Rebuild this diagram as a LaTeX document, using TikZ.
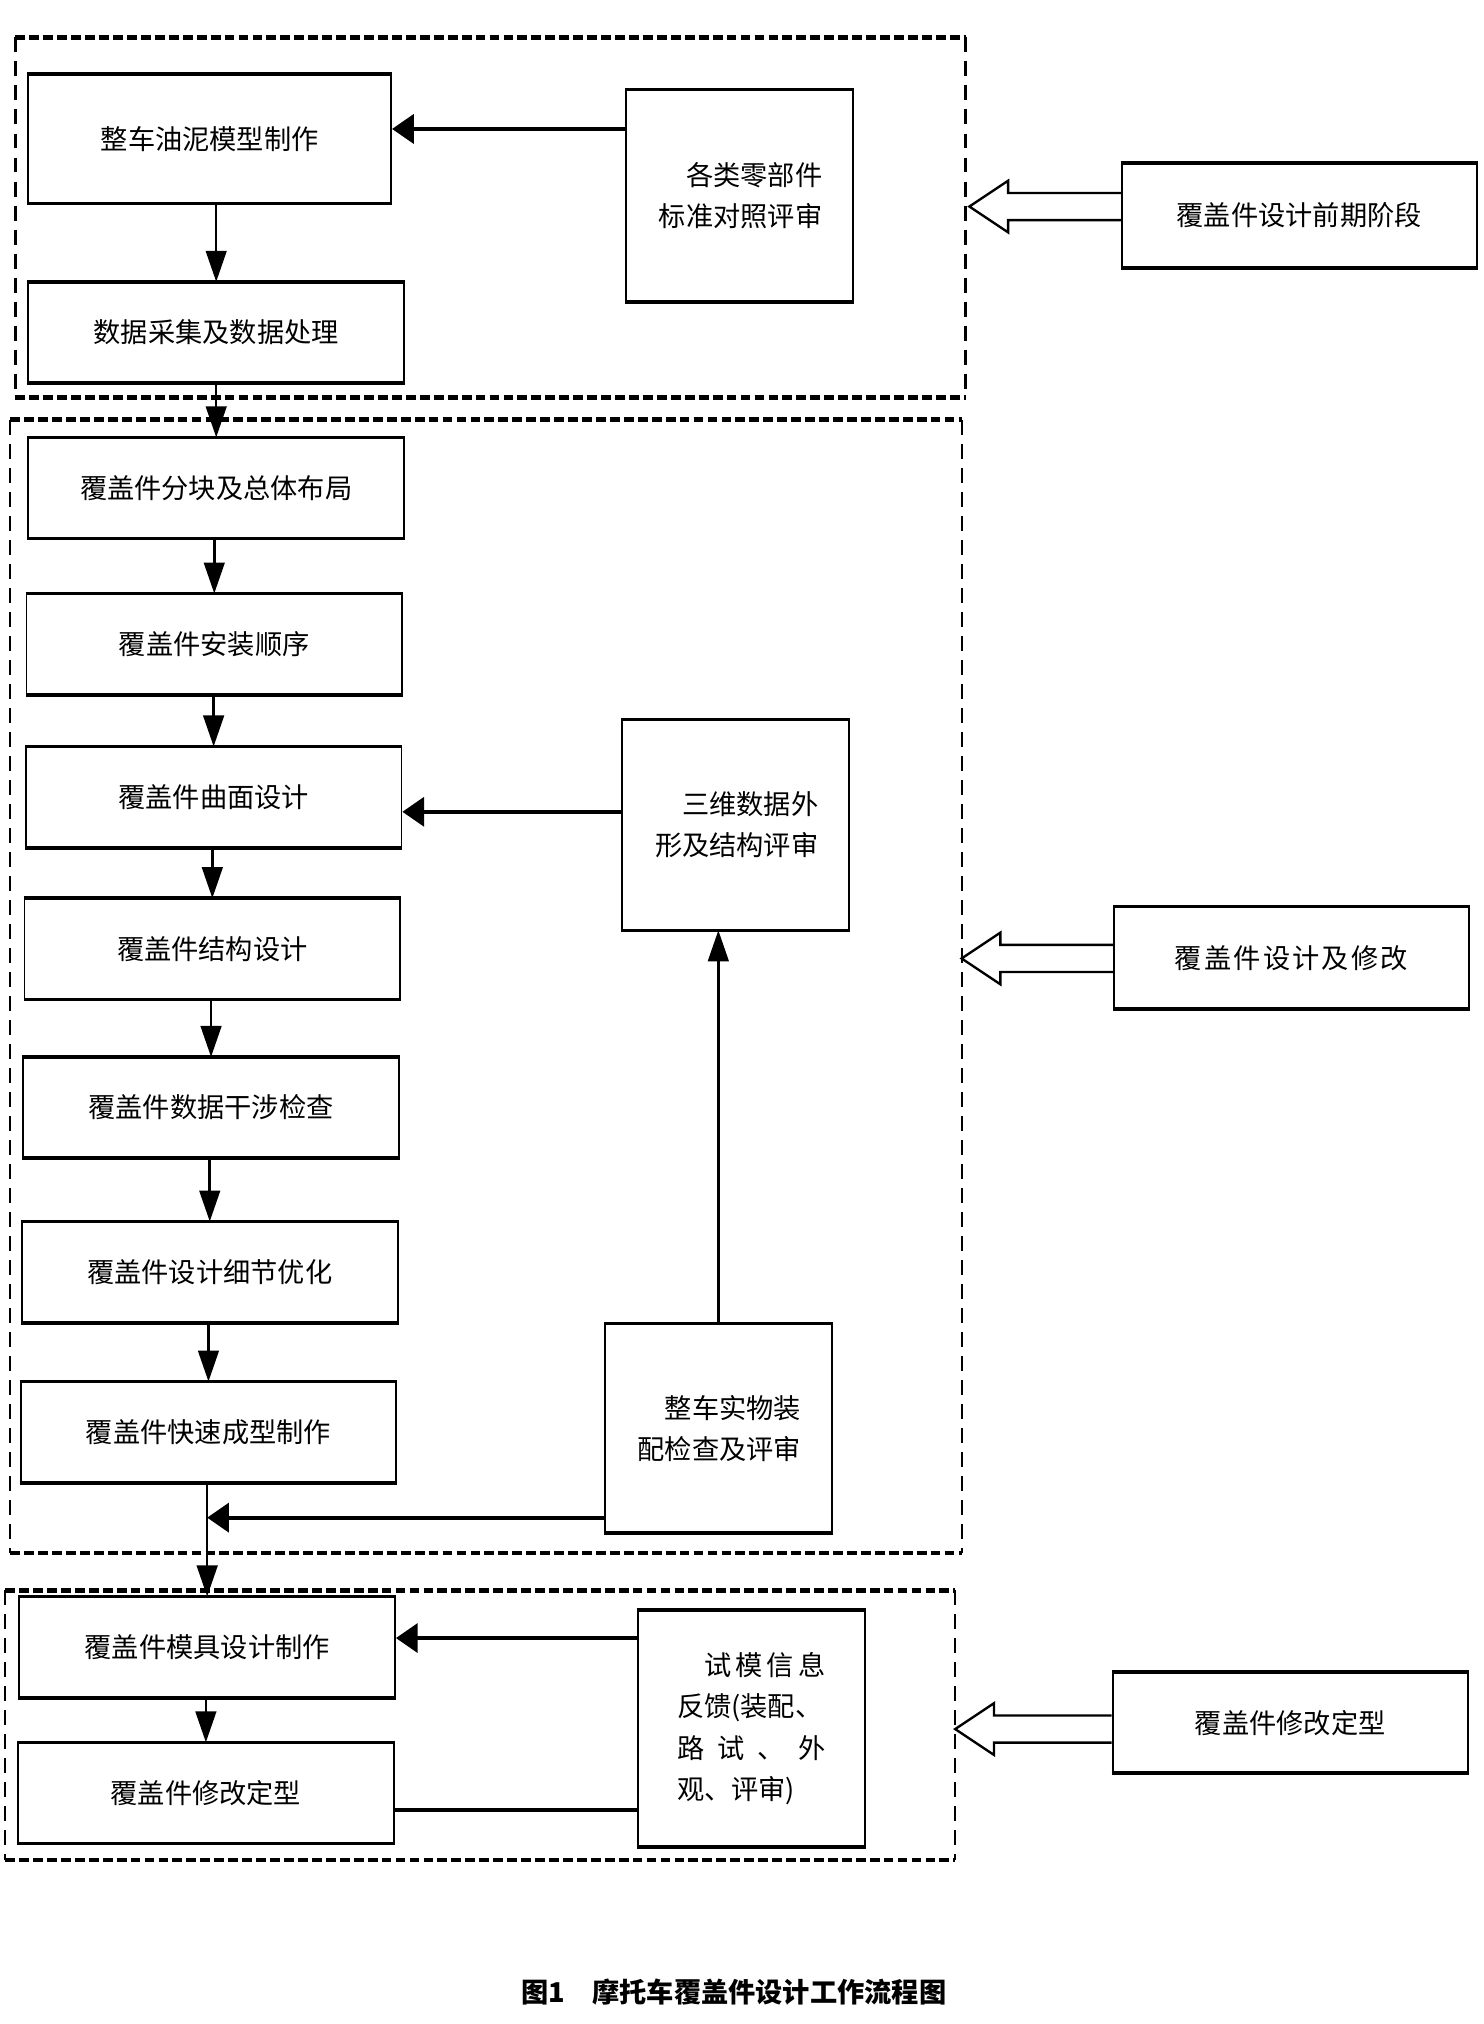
\documentclass[tikz,border=0pt]{standalone}
\usepackage{fontspec}
\setmainfont{Noto Sans CJK SC}
\usetikzlibrary{arrows.meta}
\tikzset{
	box/.style={draw, shape=rectangle, line width=1pt, inner sep=0, minimum width=7.275cm, minimum height=1.925cm, align=center},
	sidebox/.style={box, minimum width=4.4cm, minimum height=4.05cm, text width=3.2cm, align=right},
	phasebox/.style={box, minimum width=6.875cm},
	rim/.style={line width=2pt},
	varr/.style={line width=1.4pt, -{Triangle[length=0.6cm, width=0.4cm]}},
	harr/.style={line width=2.1pt, -{Triangle[length=0.42cm, width=0.56cm]}},
	hdash/.style={line width=2.6pt, dash pattern=on 0.19cm off 0.08cm},
	vdash/.style={line width=1.2pt, dash pattern=on 0.29cm off 0.175cm},
	hollowarr/.style={line width=1.3pt, line join=miter}
}
\begin{document}
\begin{tikzpicture}[x=0.025cm, y=-0.025cm, font=\fontsize{15pt}{22.8pt}\selectfont]
	\useasboundingbox (0,0) rectangle (1149,1568);
	\foreach \l/\r/\t/\b in {12/748/29/308, 8/745/325/1203, 4/740/1232/1441}
		{
			\draw[hdash] (\l,\t) -- (\r,\t) (\l,\b) -- (\r,\b);
			\draw[vdash] (\l,\t) -- (\l,\b) (\r,\t) -- (\r,\b);
		}
	\node[box, minimum width=7.025cm, minimum height=2.475cm] (a) at (162.5,107.5){整车油泥模型制作};
	\foreach \n/\x/\y/\t in {b/167.5/257.5/数据采集及数据处理, e/167.5/378/覆盖件分块及总体布局, f/166/499/覆盖件安装顺序, g/165.5/617.5/覆盖件曲面设计, h/164.5/735/覆盖件结构设计, i/163.5/858/覆盖件数据干涉检查, j/162.5/985.5/覆盖件设计细节优化, k/161.5/1109.5/覆盖件快速成型制作, n/160.5/1276/覆盖件模具设计制作, o/159.5/1389/覆盖件修改定型}
		{
			\node[box] (\n) at (\x,\y){\t};
		}
	\node[sidebox, minimum height=4.075cm] (c) at (573,151.5){各类零部件\\标准对照评审};
	\node[sidebox] (l) at (570,639){三维数据外\\形及结构评审};
	\node[sidebox, minimum height=4.025cm] (m) at (556.5,1106.5){整车实物装\\配检查及评审};
	\node[sidebox, minimum height=4.55cm, text width=2.875cm, align=left] (p) at (582,1339){\hspace*{1em}试\hfill 模\hfill 信\hfill 息\\反馈(装配、\\路\hfill 试\hfill 、\hfill 外\\观、评审)};
	\node[phasebox, minimum height=2cm] (d) at (1006.5,167){覆盖件设计前期阶段};
	\node[phasebox, minimum height=1.95cm] (q) at (1000.5,742){\addfontfeature{LetterSpace=8}覆盖件设计及修改};
	\node[phasebox] (r) at (999.5,1334.5){覆盖件修改定型};
	\node[font=\fontsize{15pt}{22.8pt}\selectfont\bfseries] (cap) at (568.5,1543){图1\quad 摩托车覆盖件设计工作流程图};
	\foreach \n in {a,b,c,d,e,f,g,h,i,j,k,l,m,n,o,p,q,r}
		{
			\draw[rim] (\n.north west) -- (\n.north east) (\n.south west) -- (\n.south east);
		}
	\foreach \u/\v in {a/b, b/e, e/f, f/g, g/h, h/i, i/j, j/k, k/n, n/o}
		{
			\draw[varr] (\v.north |- \u.south) -- (\v.north);
		}
	\coordinate (ca) at ([yshift=0.19cm]a.east);
	\draw[harr] (c.west |- ca) -- (ca);
	\coordinate (lg) at ([yshift=-0.285cm]g.east);
	\draw[harr] (l.west |- lg) -- (lg);
	\draw[varr] (m.north) -- (m.north |- l.south);
	\coordinate (mk) at ([yshift=0.3cm]m.south west);
	\draw[harr] (mk) -- (mk -| n.north);
	\coordinate (pn) at ([yshift=0.175cm]n.east);
	\draw[harr] (p.west |- pn) -- (pn);
	\coordinate (op) at ([yshift=-0.325cm]o.east);
	\draw[line width=2pt] (op) -- (op -| p.west);
	\coordinate (td) at (751,160);
	\coordinate (tq) at (745,742.5);
	\coordinate (tr) at (740,1339.5);
	\foreach \t/\s in {td/d, tq/q, tr/r}
		{
			\path (\t) ++(30,-10.5) coordinate (su) ++(0,21) coordinate (sd);
			\draw[hollowarr] (su -| \s.west) -- (su) -- ++(0,-9.5) -- (\t) -- ++(30,20) -- (sd) -- (sd -| \s.west);
		}
\end{tikzpicture}
\end{document}
